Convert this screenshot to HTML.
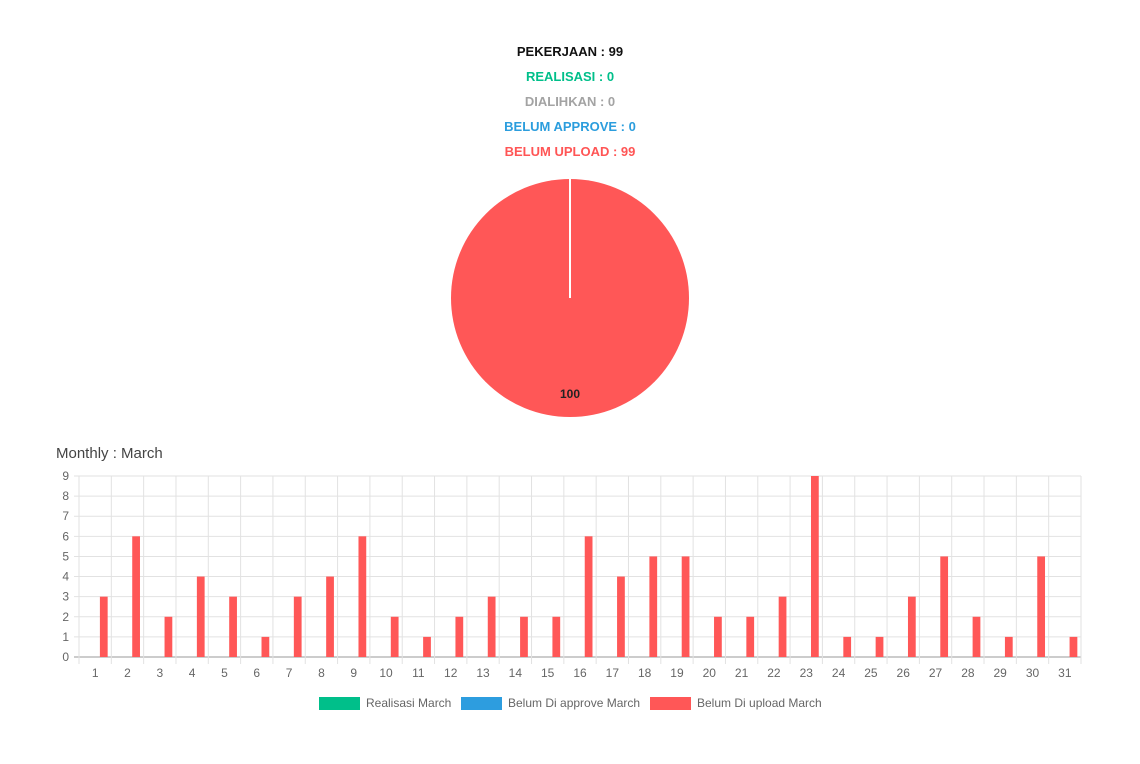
<!DOCTYPE html>
<html><head><meta charset="utf-8"><style>
body{margin:0;background:#fff;width:1140px;height:764px;overflow:hidden;font-family:"Liberation Sans",sans-serif}
.h{position:absolute;left:0;width:1140px;text-align:center;font-weight:bold;font-size:13px}
</style></head><body>
<div class="h" style="top:44px;color:#111">PEKERJAAN : 99</div>
<div class="h" style="top:69px;color:#00bf8a">REALISASI : 0</div>
<div class="h" style="top:94px;color:#a3a3a3">DIALIHKAN : 0</div>
<div class="h" style="top:119px;color:#2b9ddd">BELUM APPROVE : 0</div>
<div class="h" style="top:144px;color:#ff5555">BELUM UPLOAD : 99</div>
<svg width="1140" height="764" style="position:absolute;left:0;top:0" id="svg">
<g>
<circle cx="570" cy="298" r="119" fill="#ff5757"/>
<line x1="570" y1="298" x2="570" y2="179" stroke="#fff" stroke-width="2"/>
<text x="570" y="398" text-anchor="middle" font-size="12" font-weight="bold" fill="#222">100</text>
</g>
<text x="56" y="458" font-size="15" fill="#444">Monthly : March</text>
<g id="chart"></g>
<g font-size="12" fill="#666">
<rect x="319" y="697" width="41" height="13" fill="#00bf8a"/>
<text x="366" y="707">Realisasi March</text>
<rect x="461" y="697" width="41" height="13" fill="#2d9ddf"/>
<text x="508" y="707">Belum Di approve March</text>
<rect x="650" y="697" width="41" height="13" fill="#ff5757"/>
<text x="697" y="707">Belum Di upload March</text>
</g>
</svg>
<script>
const categories=["1","2","3","4","5","6","7","8","9","10","11","12","13","14","15","16","17","18","19","20","21","22","23","24","25","26","27","28","29","30","31"];
const realisasi=[0,0,0,0,0,0,0,0,0,0,0,0,0,0,0,0,0,0,0,0,0,0,0,0,0,0,0,0,0,0,0];
const belumApprove=[0,0,0,0,0,0,0,0,0,0,0,0,0,0,0,0,0,0,0,0,0,0,0,0,0,0,0,0,0,0,0];
const belumUpload=[3,6,2,4,3,1,3,4,6,2,1,2,3,2,2,6,4,5,5,2,2,3,9,1,1,3,5,2,1,5,1];
const yTicks=[0,1,2,3,4,5,6,7,8,9];
const NS="http://www.w3.org/2000/svg";
const g=document.getElementById('chart');
const X0=79,X1=1081,Y0=657,Y1=476,yMax=9;
const bw=(X1-X0)/categories.length;
const y=v=>Y0-(v/yMax)*(Y0-Y1);
function mk(t,a){const e=document.createElementNS(NS,t);for(const k in a)e.setAttribute(k,a[k]);g.appendChild(e);return e;}
yTicks.forEach(t=>{
 const l=mk('line',{x1:X0-5,x2:X1,y1:y(t),y2:y(t),stroke:t===0?'#999':'#e2e2e2'});
 
 
 const tx=mk('text',{x:X0-10,y:y(t)+4,'text-anchor':'end','font-size':12,fill:'#666'});
 tx.textContent=t;
 
 
});
for(let i=0;i<=categories.length;i++){
 const l=mk('line',{x1:X0+i*bw,x2:X0+i*bw,y1:Y1,y2:Y0+7,stroke:'#e2e2e2'});
 
 
}
const series=[[realisasi,'#00bf8a'],[belumApprove,'#2d9ddf'],[belumUpload,'#ff5757']];
categories.forEach((c,i)=>{
 const cx=X0+(i+0.5)*bw;
 const tx=mk('text',{x:cx,y:677,'text-anchor':'middle','font-size':12,fill:'#666'});
 tx.textContent=c;
 
 
 const gw=bw*0.8,w=gw/3*0.9;
 series.forEach((s,k)=>{
  const v=s[0][i];if(!v)return;
  const bc=cx-gw/2+gw/3*(k+0.5);
  const r=mk('rect',{x:bc-w/2,y:y(v),width:w,height:Y0-y(v),fill:s[1]});
  
  
 });
});
</script>
</body></html>
